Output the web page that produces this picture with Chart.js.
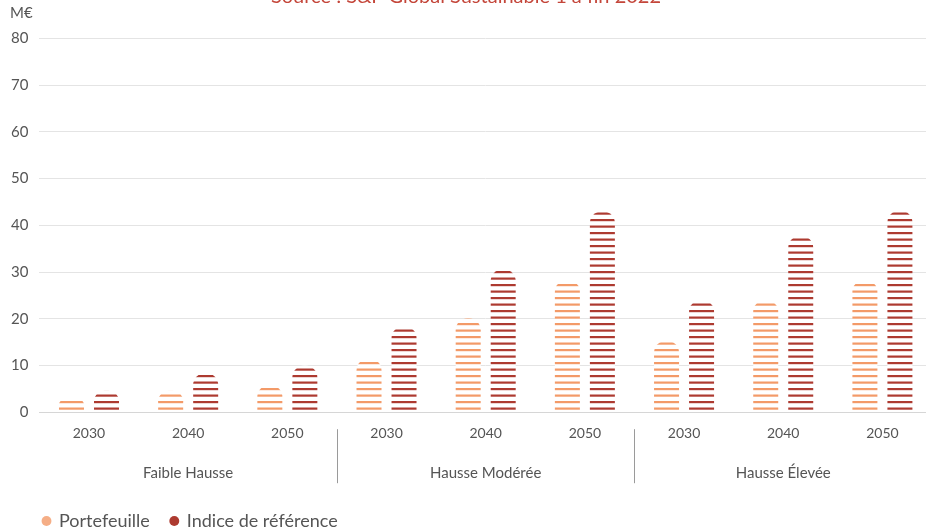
<!DOCTYPE html>
<html>
<head>
<meta charset="utf-8">
<script src="https://cdn.jsdelivr.net/npm/chart.js@4"></script>
<style>
    html, body { margin: 0; padding: 0; background: #fff; }
    #wrap { position: relative; width: 926px; height: 532px; overflow: hidden; }
    #chart { position: absolute; left: 0; top: -15px; }
</style>
</head>
<body>
<div id="wrap">
    <canvas id="chart" width="940" height="555"></canvas>
</div>
<script>
// Chart data
const years = ['2030', '2040', '2050', '2030', '2040', '2050', '2030', '2040', '2050'];
const scenarios = ['Faible Hausse', 'Hausse Modérée', 'Hausse Élevée'];
const portefeuille = [2.9, 4.6, 5.8, 11.5, 20.1, 28.3, 15.3, 24.0, 28.3];
const indice = [4.6, 8.4, 10.0, 18.4, 30.6, 43.0, 24.0, 37.8, 43.2];
const yTicks = [0, 10, 20, 30, 40, 50, 60, 70, 80];

const colorPortefeuille = '#f39a68';
const colorIndice = '#ad3a30';
const legendColors = ['#f5ae86', '#ad3a30'];
const fontFamily = 'Lato, "Noto Sans", sans-serif';

// horizontal stripes, white gaps (period 6.5px)
function stripePattern(color) {
    const c = document.createElement('canvas');
    c.width = 4;
    c.height = 13;
    const g = c.getContext('2d');
    g.fillStyle = '#ffffff';
    g.fillRect(0, 0, 4, 13);
    g.fillStyle = color;
    g.fillRect(0, 0, 4, 2.2);
    g.fillRect(0, 6.5, 4, 2.2);
    return g.createPattern(c, 'repeat');
}

// legend starts a bit right of the canvas edge
const legendShift = {
    id: 'legendShift',
    afterLayout(chart) {
        chart.legend.left += 22;
    }
};

// "M€" unit label + separators between scenario groups
const extrasPlugin = {
    id: 'extras',
    afterDraw(chart) {
        const ctx = chart.ctx;
        const area = chart.chartArea;
        const x = chart.scales.x;
        ctx.save();
        ctx.font = '15px ' + fontFamily;
        ctx.fillStyle = '#555';
        ctx.textAlign = 'left';
        ctx.textBaseline = 'middle';
        ctx.fillText('M€', 10, area.top - 25);

        ctx.strokeStyle = '#9a9a9a';
        ctx.lineWidth = 1;
        [3, 6].forEach(i => {
            const px = Math.round((x.getPixelForValue(i - 1) + x.getPixelForValue(i)) / 2) + 0.5;
            ctx.beginPath();
            ctx.moveTo(px, area.bottom + 17);
            ctx.lineTo(px, area.bottom + 71);
            ctx.stroke();
        });
        ctx.restore();
    }
};

const ctx = document.getElementById('chart').getContext('2d');
window.scenarioChart = new Chart(ctx, {
    type: 'bar',
    data: {
        labels: years,
        datasets: [
            {
                label: 'Portefeuille',
                data: portefeuille,
                backgroundColor: stripePattern(colorPortefeuille),
                borderRadius: 12,
                borderSkipped: 'start',
                categoryPercentage: 0.706,
                barPercentage: 0.714
            },
            {
                label: 'Indice de référence',
                data: indice,
                backgroundColor: stripePattern(colorIndice),
                borderRadius: 12,
                borderSkipped: 'start',
                categoryPercentage: 0.706,
                barPercentage: 0.714
            }
        ]
    },
    options: {
        responsive: false,
        animation: false,
        devicePixelRatio: 1,
        layout: {
            padding: { left: 0, right: 8, top: 0, bottom: 0 }
        },
        scales: {
            x: {
                grid: { display: false, drawTicks: false },
                border: { display: true, color: '#d6d6d6' },
                ticks: {
                    color: '#555',
                    padding: 13,
                    font: { family: fontFamily, size: 14 }
                }
            },
            x2: {
                type: 'category',
                labels: scenarios,
                position: 'bottom',
                offset: true,
                grid: { display: false, drawTicks: false },
                border: { display: false },
                ticks: {
                    color: '#555',
                    padding: 9,
                    font: { family: fontFamily, size: 15 }
                }
            },
            y: {
                min: 0,
                max: 80,
                afterBuildTicks: axis => {
                    axis.ticks = yTicks.map(v => ({ value: v }));
                },
                grid: { color: '#e4e4e4', drawTicks: false },
                border: { display: false },
                ticks: {
                    color: '#555',
                    padding: 11,
                    font: { family: fontFamily, size: 15 }
                }
            }
        },
        plugins: {
            title: {
                display: true,
                text: 'Source : S&P Global Sustainable 1 à fin 2022',
                color: '#c4463a',
                font: { family: fontFamily, size: 20, weight: 'normal' },
                padding: { top: 0, bottom: 29.5 }
            },
            legend: {
                position: 'bottom',
                align: 'start',
                labels: {
                    usePointStyle: true,
                    pointStyle: 'circle',
                    boxWidth: 7,
                    boxHeight: 7,
                    padding: 21,
                    color: '#555',
                    font: { family: fontFamily, size: 18 },
                    generateLabels(chart) {
                        const items = Chart.defaults.plugins.legend.labels.generateLabels(chart);
                        items.forEach((item, i) => {
                            item.fillStyle = legendColors[i];
                            item.strokeStyle = legendColors[i];
                            item.lineWidth = 0;
                        });
                        return items;
                    }
                }
            },
            tooltip: { enabled: false }
        }
    },
    plugins: [legendShift, extrasPlugin]
});
</script>
</body>
</html>
